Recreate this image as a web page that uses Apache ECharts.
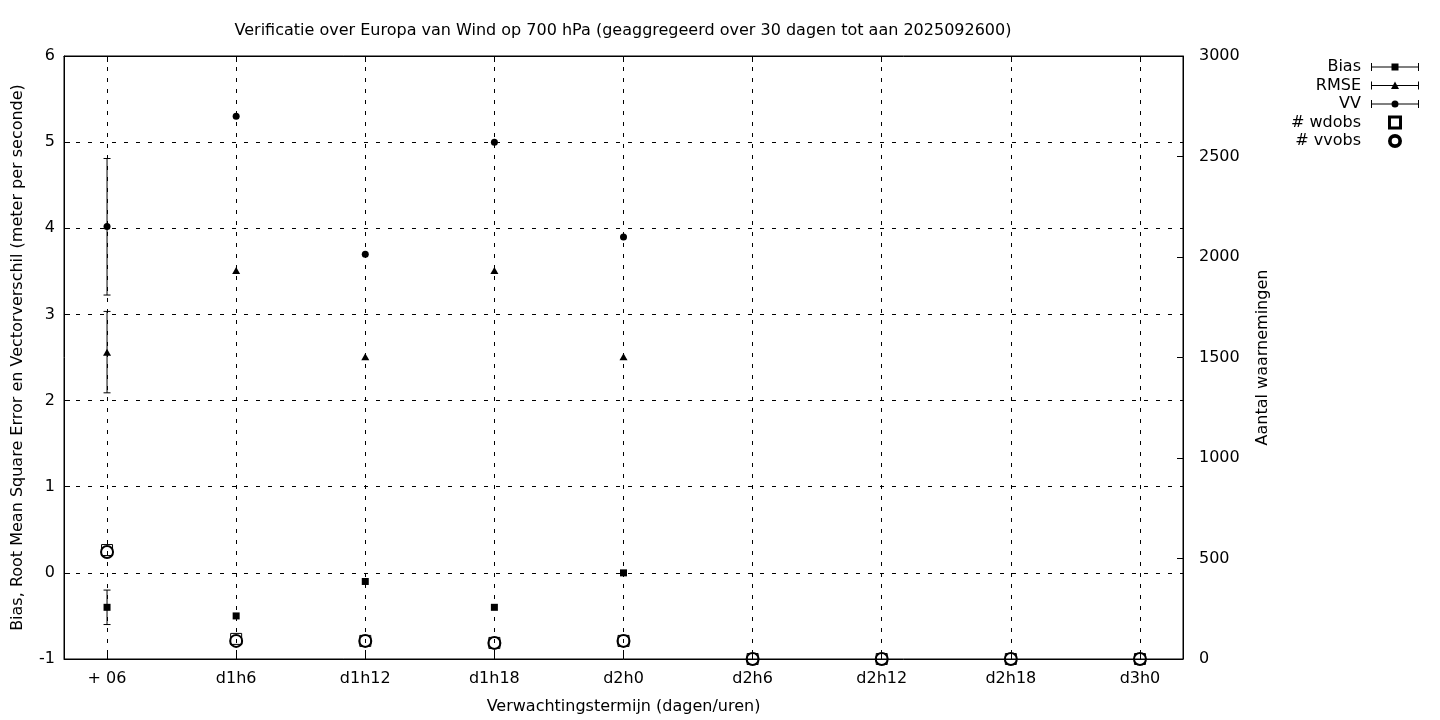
<!DOCTYPE html>
<html>
<head>
<meta charset="utf-8">
<script src="https://cdn.jsdelivr.net/npm/echarts@6/dist/echarts.min.js"></script>
<style>html,body{margin:0;padding:0;background:#fff}#c{width:1440px;height:720px}</style>
</head>
<body>
<div id="c"></div>
<script>
// ---- data ----
const categories = ['+ 06', 'd1h6', 'd1h12', 'd1h18', 'd2h0', 'd2h6', 'd2h12', 'd2h18', 'd3h0'];
const leftTicks = [-1, 0, 1, 2, 3, 4, 5, 6];
const rightTicks = [0, 500, 1000, 1500, 2000, 2500, 3000];
const biasValues = [-0.40, -0.50, -0.10, -0.40, 0.00];
const biasErr = [[0, -0.60, -0.20]];          // [index, low, high]
const rmseValues = [2.56, 3.51, 2.51, 3.51, 2.51];
const rmseErr = [[0, 2.09, 3.035]];
const vvValues = [4.02, 5.30, 3.70, 5.00, 3.90];
const vvErr = [[0, 3.225, 4.81]];
const wdobsValues = [542, 100, 90, 80, 90, 0, 0, 0, 0];
const vvobsValues = [532, 90, 90, 80, 90, 0, 0, 0, 0];

const FONT = 'DejaVu Sans';
const FS = 16;
const idx = categories.map((c, i) => i);
const toPts = arr => arr.map((v, i) => [i, v]);

function errRender(params, api) {
  const x = api.value(0), lo = api.value(1), hi = api.value(2);
  const p1 = api.coord([x, lo]), p2 = api.coord([x, hi]);
  const w = 3.5;
  const st = {stroke: '#000', lineWidth: 1};
  return {type: 'group', children: [
    {type: 'line', shape: {x1: p1[0], y1: p1[1], x2: p2[0], y2: p2[1]}, style: st},
    {type: 'line', shape: {x1: p1[0] - w, y1: p1[1], x2: p1[0] + w, y2: p1[1]}, style: st},
    {type: 'line', shape: {x1: p2[0] - w, y1: p2[1], x2: p2[0] + w, y2: p2[1]}, style: st}
  ]};
}

// legend icon paths (53 x 12 box, visible part from x=5)
const base = 'M0,0Z M53,12Z ';
const bar = 'M5,5.5H53V6.5H5Z M5,2H6V10H5Z M52,2H53V10H52Z ';
const iconBias = 'path://' + base + bar + 'M25.5,2.5H32.5V9.5H25.5Z';
const iconRmse = 'path://' + base + bar + 'M29,2L33,9.5H25Z';
const iconVV = 'path://' + base + bar + 'M32.5,6A3.5,3.5 0 1 1 25.5,6A3.5,3.5 0 1 1 32.5,6Z';
const iconWd = 'path://' + base + 'M23,0H35V12H23Z M24,1V11H34V1Z';
const iconVvo = 'path://' + base + 'M35,6A6,6 0 1 1 23,6A6,6 0 1 1 35,6Z M33.3,6A4.3,4.3 0 1 0 24.7,6A4.3,4.3 0 1 0 33.3,6Z';

const chart = echarts.init(document.getElementById('c'));
const dashH = {color: '#000', width: 1, type: [4, 8]};
const dashV = {color: '#000', width: 1, type: [4, 7]};
const solid = {color: '#000', width: 1};
chart.setOption({
  animation: false,
  backgroundColor: '#fff',
  textStyle: {fontFamily: FONT, color: '#000'},
  title: {
    text: 'Verificatie over Europa van Wind op 700 hPa (geaggregeerd over 30 dagen tot aan 2025092600)',
    left: 623, top: 23, textAlign: 'center', padding: 0,
    textStyle: {fontFamily: FONT, fontSize: FS, fontWeight: 'normal', color: '#000'}
  },
  legend: {
    orient: 'vertical', right: 20, top: 59, align: 'right', padding: 0,
    itemWidth: 53, itemHeight: 12, itemGap: 2.5,
    textStyle: {fontFamily: FONT, fontSize: FS, color: '#000', lineHeight: 16},
    data: [
      {name: 'Bias', icon: iconBias},
      {name: 'RMSE', icon: iconRmse},
      {name: 'VV', icon: iconVV},
      {name: '# wdobs', icon: iconWd},
      {name: '# vvobs', icon: iconVvo}
    ],
    selectedMode: false
  },
  grid: {left: 64, right: 257, top: 56, bottom: 61, show: true, borderColor: '#000', borderWidth: 1, backgroundColor: 'transparent'},
  xAxis: [{
    type: 'value', min: -1 / 3, max: 8 + 1 / 3, position: 'bottom',
    name: 'Verwachtingstermijn (dagen/uren)', nameLocation: 'middle', nameGap: 40,
    nameTextStyle: {fontFamily: FONT, fontSize: FS, color: '#000'},
    axisLine: {show: true, onZero: false, lineStyle: solid},
    axisTick: {show: true, inside: true, length: 6, customValues: idx, lineStyle: solid},
    axisLabel: {customValues: idx, formatter: v => categories[Math.round(v)], margin: 12,
      fontFamily: FONT, fontSize: FS, color: '#000'},
    splitLine: {show: true, lineStyle: dashV}
  }, {
    type: 'value', min: -1 / 3, max: 8 + 1 / 3, position: 'top',
    axisLine: {show: true, onZero: false, lineStyle: solid},
    axisTick: {show: true, inside: true, length: 6, customValues: idx, lineStyle: solid},
    axisLabel: {show: false},
    splitLine: {show: false}
  }],
  yAxis: [{
    type: 'value', min: -1, max: 6, interval: 1, position: 'left',
    name: 'Bias, Root Mean Square Error en Vectorverschil (meter per seconde)',
    nameLocation: 'middle', nameGap: 38,
    nameTextStyle: {fontFamily: FONT, fontSize: FS, color: '#000'},
    axisLine: {show: true, onZero: false, lineStyle: solid},
    axisTick: {show: true, inside: true, length: 6, lineStyle: solid},
    axisLabel: {margin: 9, fontFamily: FONT, fontSize: FS, color: '#000', formatter: v => String(v)},
    splitLine: {show: true, lineStyle: dashH}
  }, {
    type: 'value', min: 0, max: 3000, interval: 500, position: 'right',
    name: 'Aantal waarnemingen', nameLocation: 'middle', nameGap: 72,
    nameTextStyle: {fontFamily: FONT, fontSize: FS, color: '#000'},
    axisLine: {show: true, onZero: false, lineStyle: solid},
    axisTick: {show: true, inside: true, length: 6, lineStyle: solid},
    axisLabel: {margin: 16, fontFamily: FONT, fontSize: FS, color: '#000', formatter: v => String(v)},
    splitLine: {show: false}
  }],
  series: [
    {name: 'Bias', type: 'scatter', data: toPts(biasValues), symbol: 'rect', symbolSize: 7,
      itemStyle: {color: '#000', opacity: 1}, z: 5},
    {name: 'Bias', type: 'custom', data: biasErr, renderItem: errRender, encode: {x: 0, y: [1, 2]}, z: 4},
    {name: 'RMSE', type: 'scatter', data: toPts(rmseValues), symbol: 'triangle', symbolSize: [8, 7],
      itemStyle: {color: '#000', opacity: 1}, z: 5},
    {name: 'RMSE', type: 'custom', data: rmseErr, renderItem: errRender, encode: {x: 0, y: [1, 2]}, z: 4},
    {name: 'VV', type: 'scatter', data: toPts(vvValues), symbol: 'circle', symbolSize: 7,
      itemStyle: {color: '#000', opacity: 1}, z: 5},
    {name: 'VV', type: 'custom', data: vvErr, renderItem: errRender, encode: {x: 0, y: [1, 2]}, z: 4},
    {name: '# wdobs', type: 'scatter', yAxisIndex: 1, data: toPts(wdobsValues), symbol: 'rect', symbolSize: 11,
      itemStyle: {color: 'rgba(0,0,0,0)', borderColor: '#000', borderWidth: 1, opacity: 1}, z: 5, clip: false},
    {name: '# vvobs', type: 'scatter', yAxisIndex: 1, data: toPts(vvobsValues), symbol: 'circle', symbolSize: 12,
      itemStyle: {color: 'rgba(0,0,0,0)', borderColor: '#000', borderWidth: 2, opacity: 1}, z: 6, clip: false}
  ]
});
</script>
</body>
</html>
